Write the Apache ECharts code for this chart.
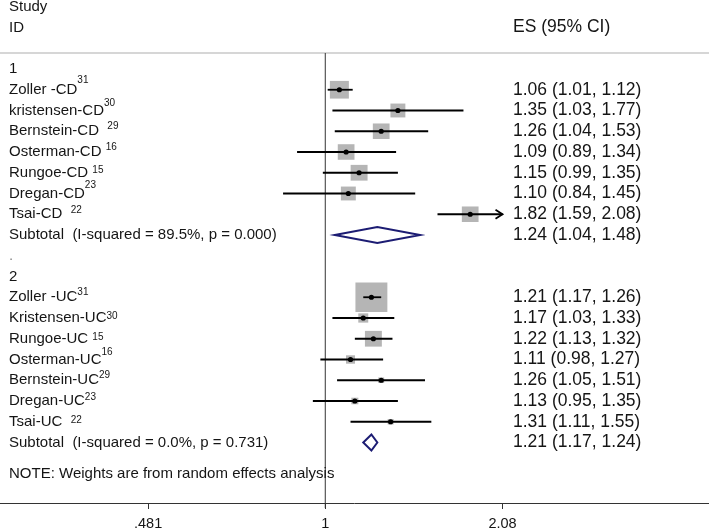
<!DOCTYPE html>
<html><head><meta charset="utf-8">
<script src="https://cdn.jsdelivr.net/npm/echarts@6/dist/echarts.min.js"></script>
<style>html,body{margin:0;padding:0;background:#fff}#c{width:709px;height:529px}</style>
</head><body><div id="c"></div>
<script>
// ---------------- data ----------------
const groupLabels = ['1', '2'];

const cdStudies = ['Zoller -CD', 'kristensen-CD', 'Bernstein-CD  ', 'Osterman-CD ', 'Rungoe-CD ', 'Dregan-CD', 'Tsai-CD  '];
const cdRefs    = ['31', '30', '29', '16', '15', '23', '22'];
const cdES      = [1.06, 1.35, 1.26, 1.09, 1.15, 1.10, 1.82];
const cdLow     = [1.01, 1.03, 1.04, 0.89, 0.99, 0.84, 1.59];
const cdHigh    = [1.12, 1.77, 1.53, 1.34, 1.35, 1.45, 2.08];
const cdWeights = [10.2, 6.3, 7.9, 7.9, 8.1, 6.3, 7.9];

const ucStudies = ['Zoller -UC', 'Kristensen-UC', 'Rungoe-UC ', 'Osterman-UC', 'Bernstein-UC', 'Dregan-UC', 'Tsai-UC  '];
const ucRefs    = ['31', '30', '15', '16', '29', '23', '22'];
const ucES      = [1.21, 1.17, 1.22, 1.11, 1.26, 1.13, 1.31];
const ucLow     = [1.17, 1.03, 1.13, 0.98, 1.05, 0.95, 1.11];
const ucHigh    = [1.26, 1.33, 1.32, 1.27, 1.51, 1.35, 1.55];
const ucWeights = [28.8, 2.8, 8.1, 2.3, 1.0, 1.4, 1.0];

const subtotalLabels = ['Subtotal  (I-squared = 89.5%, p = 0.000)', 'Subtotal  (I-squared = 0.0%, p = 0.731)'];
const subtotalES   = [1.24, 1.21];
const subtotalLow  = [1.04, 1.17];
const subtotalHigh = [1.48, 1.24];

const headerLeft = ['Study', 'ID'];
const headerRight = 'ES (95% CI)';
const noteText = 'NOTE: Weights are from random effects analysis';

const tickValues = [0.481, 1, 2.08];
const tickLabels = ['.481', '1', '2.08'];

// ---------------- style / layout ----------------
const cdSupRaise = [9, 7.5, 4.5, 5, 2, 8, 4];
const ucSupRaise = [5, 2, 1, 7, 5, 3.5, 1];
const FONT = 'Liberation Sans, Arial, Helvetica, sans-serif';
const AXIS_MIN = 0.2608, AXIS_MAX = 4.882;
const ROW_MIN = -3.325, ROW_MAX = 20.916;
const HEADER_RULE_ROW = -0.77;
const LEFT_X = 9, RIGHT_X = 513;
const BOX_SCALE = 5.95, BOX_ASPECT = 0.93;
const BOX_COLOR = '#b5b5b5';
const DIAMOND_HALF = 8;
const ARROW_LIMIT = tickValues[tickValues.length - 1];

const groups = [
  {studies: cdStudies, refs: cdRefs, es: cdES, low: cdLow, high: cdHigh, w: cdWeights, raise: cdSupRaise},
  {studies: ucStudies, refs: ucRefs, es: ucES, low: ucLow, high: ucHigh, w: ucWeights, raise: ucSupRaise}
];

const fmt = v => v.toFixed(2);
const ln = Math.log;

const texts = [];
const studyData = [];
const diamondData = [];
texts.push({row: -3, col: 'L', text: headerLeft[0], size: 15});
texts.push({row: -2, col: 'L', text: headerLeft[1], size: 15});
texts.push({row: -2, col: 'R', text: headerRight, size: 17.5});

groups.forEach((g, gi) => {
  const base = gi * 10;
  texts.push({row: base, col: 'L', text: groupLabels[gi], size: 15});
  g.studies.forEach((name, i) => {
    const row = base + 1 + i;
    texts.push({row, col: 'L', text: name, ref: g.refs[i], raise: g.raise[i], size: 15});
    texts.push({row, col: 'R', text: fmt(g.es[i]) + ' (' + fmt(g.low[i]) + ', ' + fmt(g.high[i]) + ')', size: 17.5});
    const arrow = g.high[i] >= ARROW_LIMIT ? 1 : 0;
    const hi = Math.min(g.high[i], ARROW_LIMIT);
    studyData.push([ln(g.es[i]), row, ln(g.low[i]), ln(hi), g.w[i], arrow]);
  });
  const srow = base + 8;
  texts.push({row: srow, col: 'L', text: subtotalLabels[gi], size: 15});
  texts.push({row: srow, col: 'R', text: fmt(subtotalES[gi]) + ' (' + fmt(subtotalLow[gi]) + ', ' + fmt(subtotalHigh[gi]) + ')', size: 17.5});
  diamondData.push([ln(subtotalES[gi]), srow, ln(subtotalLow[gi]), ln(subtotalHigh[gi])]);
});
texts.push({row: 9, col: 'L', text: '.', size: 15, color: '#888'});
texts.push({row: 19.5, col: 'L', text: noteText, size: 15});

const chart = echarts.init(document.getElementById('c'), null, {renderer: 'canvas'});

function renderText(params, api) {
  const t = texts[api.value(2)];
  const y = api.coord([0, api.value(1)])[1];
  const x = t.col === 'L' ? LEFT_X : RIGHT_X;
  const style = {
    text: t.text, fontSize: t.size, fontFamily: FONT, fill: t.color || '#151515',
    align: 'left', verticalAlign: 'middle'
  };
  if (t.ref) {
    style.text = '{m|' + t.text + '}{s|' + t.ref + '}';
    style.rich = {
      m: {fontSize: t.size, fontFamily: FONT, fill: '#151515'},
      s: {fontSize: 10, fontFamily: FONT, fill: '#151515', padding: [0, 0, 2 * t.raise, 0]}
    };
  }
  return {type: 'text', x, y, style};
}

function renderStudy(params, api) {
  const row = api.value(1);
  const c = api.coord([api.value(0), row]);
  const lo = api.coord([api.value(2), row]);
  const hi = api.coord([api.value(3), row]);
  const side = BOX_SCALE * Math.sqrt(api.value(4));
  const h = side * BOX_ASPECT;
  const children = [
    {type: 'rect', shape: {x: c[0] - side / 2, y: c[1] - h / 2, width: side, height: h}, style: {fill: BOX_COLOR}},
    {type: 'line', shape: {x1: lo[0], y1: lo[1], x2: hi[0], y2: hi[1]}, style: {stroke: '#000', lineWidth: 1.8}},
    {type: 'circle', shape: {cx: c[0], cy: c[1], r: 2.6}, style: {fill: '#000'}}
  ];
  if (api.value(5) === 1) {
    children.push({type: 'polyline', shape: {points: [[hi[0] - 7, hi[1] - 4.5], [hi[0], hi[1]], [hi[0] - 7, hi[1] + 4.5]]},
      style: {stroke: '#000', lineWidth: 1.8, fill: 'none'}});
  }
  return {type: 'group', children};
}

function renderDiamond(params, api) {
  const row = api.value(1);
  const c = api.coord([api.value(0), row]);
  const lo = api.coord([api.value(2), row]);
  const hi = api.coord([api.value(3), row]);
  return {type: 'polygon', shape: {points: [[lo[0], lo[1]], [c[0], c[1] - DIAMOND_HALF], [hi[0], hi[1]], [c[0], c[1] + DIAMOND_HALF]]},
    style: {stroke: '#1c1c73', lineWidth: 2, fill: '#fff'}};
}

function renderFrame(params, api) {
  const cs = params.coordSys;
  const p = api.coord([api.value(0), api.value(1)]);
  return {type: 'group', children: [
    {type: 'line', shape: {x1: cs.x, y1: p[1], x2: cs.x + cs.width, y2: p[1]}, style: {stroke: '#c8c8c8', lineWidth: 1.5}},
    {type: 'line', shape: {x1: p[0], y1: p[1], x2: p[0], y2: cs.y + cs.height + 5}, style: {stroke: '#333', lineWidth: 1}}
  ]};
}

chart.setOption({
  animation: false,
  backgroundColor: '#fff',
  grid: {left: 0, right: 0, top: 0, bottom: 26, containLabel: false, outerBoundsMode: 'none'},
  xAxis: {
    type: 'value', min: ln(AXIS_MIN), max: ln(AXIS_MAX),
    splitLine: {show: false},
    axisLine: {show: true, onZero: false, lineStyle: {color: '#333', width: 1}},
    axisTick: {show: true, length: 6, customValues: tickValues.map(ln), lineStyle: {color: '#333', width: 1}},
    axisLabel: {
      customValues: tickValues.map(ln), margin: 13, fontSize: 14.5, fontFamily: FONT, color: '#151515',
      formatter: v => {
        const i = tickValues.findIndex(t => Math.abs(ln(t) - v) < 1e-6);
        return i >= 0 ? tickLabels[i] : '';
      }
    }
  },
  yAxis: {type: 'value', inverse: true, min: ROW_MIN, max: ROW_MAX, show: false},
  series: [
    {type: 'custom', renderItem: renderFrame, data: [[0, HEADER_RULE_ROW]], z: 1, silent: true},
    {type: 'custom', renderItem: renderStudy, data: studyData, z: 2, silent: true},
    {type: 'custom', renderItem: renderDiamond, data: diamondData, z: 3, silent: true},
    {type: 'custom', renderItem: renderText, data: texts.map((t, i) => [0, t.row, i]), z: 4, silent: true}
  ]
});
</script>
</body></html>
